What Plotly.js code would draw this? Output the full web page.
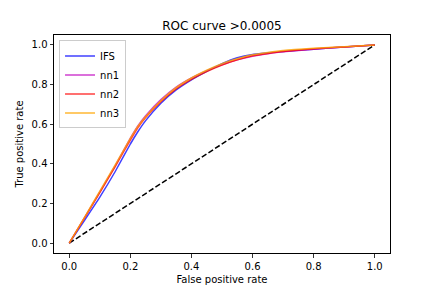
<!DOCTYPE html>
<html>
<head>
<meta charset="utf-8">
<script src="https://cdn.plot.ly/plotly-3.0.1.min.js"></script>
<style>html,body{margin:0;padding:0;background:#fff;}#chart{width:432px;height:288px;}</style>
</head>
<body>
<div id="chart"></div>
<script>
// False positive rate grid (x) for each curve
const fpr = [0, 0.05, 0.1, 0.15, 0.2, 0.225, 0.25, 0.3, 0.35, 0.4, 0.45, 0.5, 0.55, 0.6, 0.65, 0.7, 0.8, 0.9, 1.0];
// True positive rates per model
const tprIFS = [0, 0.115, 0.232, 0.36, 0.5, 0.563, 0.618, 0.706, 0.773, 0.824, 0.867, 0.905, 0.935, 0.952, 0.96, 0.967, 0.978, 0.99, 1.0];
const tprNN1 = [0, 0.128, 0.258, 0.39, 0.53, 0.593, 0.643, 0.724, 0.787, 0.833, 0.87, 0.90, 0.925, 0.943, 0.955, 0.965, 0.978, 0.99, 1.0];
const tprNN2 = [0, 0.127, 0.255, 0.385, 0.52, 0.583, 0.634, 0.714, 0.778, 0.826, 0.865, 0.898, 0.925, 0.945, 0.957, 0.967, 0.98, 0.99, 1.0];
const tprNN3 = [0, 0.13, 0.262, 0.393, 0.528, 0.59, 0.638, 0.718, 0.784, 0.833, 0.872, 0.905, 0.93, 0.95, 0.962, 0.972, 0.983, 0.991, 1.0];
const diagX = [0, 1];
const diagY = [0, 1];
const names = ["IFS", "nn1", "nn2", "nn3"];
const colors = ["rgba(0,0,255,0.75)", "rgba(191,0,191,0.75)", "rgba(255,0,0,0.75)", "rgba(255,165,0,0.8)"];
const series = [tprIFS, tprNN1, tprNN2, tprNN3];

const traces = [{
  x: diagX, y: diagY, mode: "lines", showlegend: false,
  line: {color: "black", width: 1.5, dash: "5.5px,2.4px"}
}];
series.forEach((s, i) => traces.push({
  x: fpr, y: s, mode: "lines", name: names[i],
  line: {color: colors[i], width: 1.5, shape: "spline", smoothing: 0.4}
}));

const font = {family: "DejaVu Sans, sans-serif", size: 10, color: "black"};
const axisCommon = {
  showline: true, mirror: true, linecolor: "black", linewidth: 1,
  ticks: "outside", ticklen: 3.5, tickwidth: 0.8, tickcolor: "black",
  showgrid: false, zeroline: false, tickformat: ".1f", dtick: 0.2, tick0: 0,
  tickfont: font, automargin: false
};
const layout = {
  width: 432, height: 288,
  margin: {l: 54, r: 42.4, t: 35, b: 35.3},
  paper_bgcolor: "white", plot_bgcolor: "white",
  font: font,
  title: {text: "ROC curve >0.0005", font: {family: "DejaVu Sans, sans-serif", size: 12, color: "black"},
          x: 0.5, xref: "paper", y: 1, yref: "paper", yanchor: "bottom", pad: {b: 5}},
  xaxis: Object.assign({}, axisCommon, {range: [-0.05, 1.05],
    title: {text: "False positive rate", font: font, standoff: 5}}),
  yaxis: Object.assign({}, axisCommon, {range: [-0.05, 1.05],
    title: {text: "True positive rate", font: font, standoff: 6}}),
  legend: {x: 0.015, y: 0.975, xanchor: "left", yanchor: "top",
    bgcolor: "rgba(255,255,255,0.8)", bordercolor: "#cccccc", borderwidth: 1,
    font: font, tracegroupgap: 0, itemwidth: 30},
  showlegend: true
};
Plotly.newPlot("chart", traces, layout, {staticPlot: true, displayModeBar: false});
</script>
</body>
</html>
